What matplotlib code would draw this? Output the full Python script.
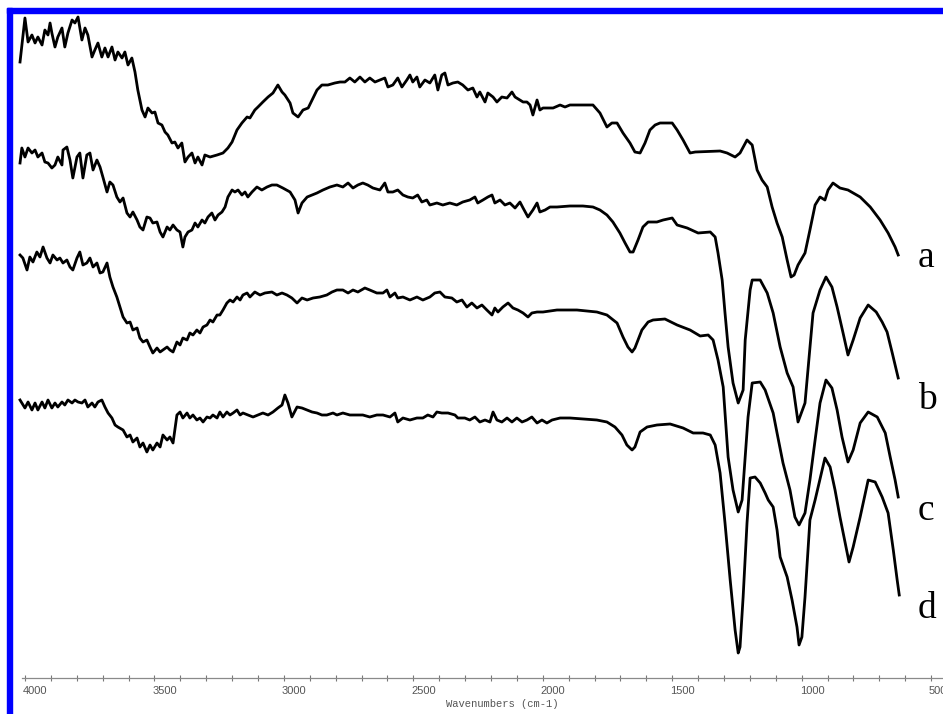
import matplotlib
matplotlib.use('Agg')
import matplotlib.pyplot as plt
import matplotlib.transforms as mtransforms
from matplotlib.patches import Rectangle
from matplotlib.ticker import MultipleLocator

# FTIR spectra, stacked (arbitrary transmittance units, offsets included)
wn_a = [4019, 4000, 3988, 3973, 3961, 3950, 3934, 3923, 3911, 3903, 3896, 3884, 3873, 3857, 3846, 3834,
        3818, 3807, 3795, 3780, 3768, 3757, 3741, 3730, 3718, 3703, 3691, 3679, 3664, 3652, 3641, 3625,
        3614, 3602, 3587, 3575, 3564, 3548, 3536, 3525, 3509, 3498, 3486, 3471, 3459, 3448, 3432, 3421,
        3409, 3394, 3382, 3370, 3355, 3343, 3332, 3316, 3305, 3285, 3258, 3235, 3216, 3200, 3181, 3162,
        3142, 3131, 3112, 3100, 3081, 3061, 3042, 3023, 3007, 2996, 2976, 2965, 2945, 2926, 2906, 2891,
        2872, 2853, 2830, 2803, 2783, 2764, 2745, 2726, 2706, 2687, 2668, 2648, 2629, 2610, 2598, 2579,
        2560, 2544, 2525, 2513, 2502, 2486, 2475, 2455, 2436, 2417, 2405, 2390, 2378, 2366, 2347, 2328,
        2309, 2289, 2270, 2254, 2243, 2223, 2212, 2192, 2177, 2158, 2138, 2119, 2107, 2088, 2076, 2061,
        2049, 2038, 2022, 2011, 1999, 1980, 1960, 1933, 1914, 1895, 1845, 1806, 1779, 1752, 1733, 1713,
        1690, 1663, 1644, 1624, 1605, 1586, 1566, 1547, 1500, 1481, 1458, 1431, 1411, 1315, 1288, 1257,
        1238, 1211, 1191, 1172, 1153, 1133, 1114, 1095, 1075, 1056, 1041, 1029, 1014, 987, 968, 948,
        929, 910, 898, 879, 852, 821, 774, 735, 697, 666, 639, 627]
t_a = [616, 660, 636, 643, 635, 641, 633, 648, 643, 655, 645, 631, 641, 650, 631, 645,
       658, 655, 661, 638, 650, 643, 621, 628, 635, 621, 630, 621, 631, 618, 626, 620,
       626, 613, 620, 606, 588, 568, 561, 570, 565, 566, 555, 553, 546, 543, 535, 536,
       530, 535, 516, 521, 525, 515, 521, 513, 523, 521, 523, 525, 530, 536, 548, 555,
       561, 560, 568, 571, 576, 581, 585, 593, 586, 583, 575, 565, 561, 568, 570, 578,
       588, 593, 593, 595, 596, 596, 600, 596, 601, 596, 600, 596, 598, 600, 591, 593,
       600, 591, 598, 603, 596, 601, 591, 598, 595, 603, 588, 603, 605, 593, 595, 596,
       593, 588, 590, 581, 586, 576, 585, 581, 576, 581, 580, 586, 581, 578, 576, 576,
       573, 563, 578, 568, 570, 570, 570, 573, 571, 573, 573, 573, 565, 551, 555, 555,
       545, 535, 526, 525, 535, 548, 553, 555, 555, 548, 538, 525, 526, 527, 525, 521,
       525, 538, 533, 508, 498, 491, 471, 455, 441, 418, 401, 403, 413, 425, 448, 473,
       481, 478, 488, 495, 490, 488, 481, 471, 458, 445, 431, 423]

wn_b = [4019, 4012, 4000, 3988, 3973, 3961, 3950, 3934, 3923, 3911, 3896, 3884, 3873, 3857, 3853, 3838,
        3826, 3815, 3799, 3788, 3776, 3761, 3749, 3737, 3722, 3710, 3699, 3683, 3672, 3660, 3645, 3633,
        3621, 3606, 3594, 3583, 3567, 3556, 3544, 3529, 3517, 3506, 3490, 3478, 3467, 3451, 3440, 3428,
        3413, 3401, 3390, 3382, 3370, 3355, 3343, 3332, 3316, 3305, 3293, 3278, 3266, 3254, 3239, 3227,
        3216, 3200, 3189, 3177, 3162, 3150, 3139, 3123, 3104, 3085, 3065, 3046, 3027, 3004, 2976, 2957,
        2945, 2930, 2910, 2891, 2872, 2849, 2822, 2795, 2772, 2752, 2733, 2714, 2695, 2676, 2656, 2629,
        2610, 2598, 2579, 2560, 2540, 2521, 2502, 2483, 2467, 2448, 2436, 2409, 2386, 2359, 2332, 2309,
        2282, 2262, 2251, 2231, 2212, 2196, 2185, 2165, 2146, 2127, 2107, 2088, 2076, 2057, 2038, 2022,
        2011, 1991, 1972, 1945, 1895, 1845, 1806, 1779, 1752, 1729, 1702, 1682, 1663, 1651, 1632, 1613,
        1593, 1559, 1535, 1500, 1481, 1442, 1400, 1353, 1334, 1323, 1307, 1296, 1284, 1265, 1245, 1226,
        1218, 1199, 1191, 1160, 1133, 1110, 1083, 1056, 1033, 1014, 987, 956, 929, 906, 883, 863,
        840, 821, 801, 774, 743, 712, 689, 670, 650, 627]
t_b = [515, 530, 521, 530, 525, 528, 521, 525, 516, 515, 510, 513, 521, 513, 528, 531,
       518, 500, 521, 525, 500, 523, 525, 508, 518, 511, 501, 486, 496, 493, 481, 476,
       480, 465, 461, 466, 458, 451, 448, 461, 460, 455, 456, 446, 441, 451, 448, 453,
       448, 446, 431, 441, 446, 448, 455, 451, 458, 455, 461, 465, 458, 463, 466, 471,
       481, 488, 486, 488, 483, 486, 481, 486, 491, 488, 491, 493, 493, 490, 486, 478,
       465, 475, 481, 483, 485, 488, 491, 493, 491, 495, 490, 493, 495, 493, 490, 488,
       495, 486, 486, 488, 483, 481, 480, 483, 476, 478, 473, 475, 473, 475, 473, 476,
       478, 481, 475, 478, 481, 483, 475, 478, 473, 475, 470, 476, 470, 461, 468, 475,
       466, 468, 471, 471, 472, 472, 471, 468, 463, 456, 445, 435, 426, 426, 438, 451,
       456, 456, 458, 460, 453, 450, 445, 446, 441, 425, 398, 365, 331, 295, 275, 288,
       338, 388, 398, 398, 385, 365, 331, 305, 291, 256, 275, 365, 388, 401, 391, 371,
       345, 323, 338, 360, 373, 366, 356, 346, 325, 300]

wn_c = [4019, 4008, 3992, 3981, 3969, 3954, 3942, 3930, 3915, 3903, 3892, 3876, 3865, 3853, 3838, 3826,
        3815, 3799, 3788, 3776, 3761, 3749, 3737, 3722, 3710, 3699, 3683, 3672, 3660, 3645, 3633, 3621,
        3606, 3594, 3583, 3567, 3556, 3544, 3529, 3517, 3506, 3490, 3478, 3467, 3451, 3440, 3428, 3413,
        3401, 3390, 3374, 3363, 3351, 3336, 3324, 3312, 3297, 3285, 3274, 3258, 3247, 3235, 3220, 3208,
        3196, 3181, 3169, 3158, 3142, 3131, 3112, 3092, 3073, 3046, 3027, 3007, 2988, 2969, 2949, 2930,
        2910, 2887, 2861, 2834, 2814, 2795, 2772, 2752, 2733, 2714, 2687, 2668, 2641, 2617, 2602, 2590,
        2571, 2560, 2540, 2513, 2486, 2463, 2436, 2417, 2397, 2378, 2351, 2332, 2312, 2293, 2274, 2254,
        2235, 2216, 2196, 2185, 2173, 2154, 2134, 2115, 2096, 2076, 2057, 2042, 2022, 1999, 1945, 1868,
        1791, 1752, 1713, 1690, 1671, 1655, 1644, 1617, 1593, 1574, 1528, 1481, 1431, 1392, 1361, 1342,
        1323, 1303, 1284, 1265, 1245, 1230, 1218, 1207, 1191, 1160, 1141, 1110, 1095, 1072, 1045, 1026,
        1010, 987, 968, 948, 929, 906, 883, 863, 844, 821, 801, 774, 743, 708, 677, 658,
        639, 627]
t_c = [423, 420, 408, 421, 416, 426, 421, 431, 420, 415, 423, 418, 420, 415, 418, 411,
       408, 420, 426, 413, 415, 420, 411, 415, 405, 406, 415, 401, 391, 381, 371, 361,
       355, 356, 348, 350, 340, 336, 338, 331, 325, 330, 326, 328, 331, 328, 326, 336,
       333, 340, 338, 345, 343, 348, 345, 351, 353, 358, 356, 363, 363, 368, 375, 378,
       376, 381, 378, 383, 385, 381, 386, 383, 385, 386, 383, 385, 383, 380, 375, 380,
       378, 380, 381, 383, 386, 388, 388, 385, 388, 386, 390, 388, 385, 385, 388, 381,
       385, 380, 381, 378, 381, 378, 381, 385, 386, 381, 380, 376, 378, 371, 375, 370,
       373, 368, 363, 370, 366, 371, 375, 370, 368, 365, 361, 365, 366, 366, 368, 368,
       366, 363, 355, 341, 331, 326, 330, 348, 356, 358, 359, 353, 348, 342, 343, 338,
       318, 291, 221, 188, 166, 178, 221, 261, 295, 296, 288, 265, 245, 215, 188, 161,
       153, 165, 198, 238, 275, 298, 290, 268, 241, 216, 228, 255, 266, 261, 245, 221,
       198, 181]

wn_d = [4019, 4012, 4000, 3988, 3973, 3961, 3950, 3934, 3923, 3911, 3896, 3884, 3873, 3857, 3846, 3834,
        3818, 3807, 3795, 3780, 3768, 3757, 3741, 3730, 3718, 3703, 3691, 3679, 3664, 3652, 3641, 3621,
        3606, 3594, 3583, 3567, 3556, 3544, 3529, 3517, 3506, 3490, 3478, 3467, 3451, 3440, 3428, 3413,
        3401, 3390, 3374, 3363, 3351, 3336, 3324, 3312, 3297, 3285, 3274, 3258, 3247, 3235, 3220, 3208,
        3196, 3181, 3169, 3158, 3139, 3119, 3100, 3081, 3061, 3042, 3023, 3007, 2996, 2984, 2969, 2949,
        2930, 2910, 2891, 2872, 2853, 2834, 2810, 2795, 2772, 2745, 2718, 2695, 2668, 2641, 2617, 2590,
        2571, 2560, 2540, 2513, 2486, 2463, 2444, 2424, 2409, 2390, 2366, 2339, 2328, 2301, 2282, 2262,
        2243, 2223, 2204, 2192, 2177, 2158, 2138, 2119, 2100, 2080, 2061, 2042, 2022, 2003, 1984, 1964,
        1933, 1895, 1845, 1791, 1752, 1721, 1694, 1675, 1655, 1644, 1624, 1597, 1559, 1508, 1458, 1419,
        1381, 1353, 1334, 1315, 1296, 1276, 1257, 1245, 1238, 1226, 1211, 1199, 1180, 1160, 1141, 1129,
        1110, 1095, 1083, 1056, 1037, 1018, 1010, 999, 987, 968, 948, 921, 910, 890, 871, 852,
        832, 817, 801, 774, 743, 716, 689, 666, 646, 631, 623]
t_d = [278, 275, 270, 276, 268, 275, 268, 276, 270, 278, 270, 275, 271, 276, 273, 278,
       275, 278, 276, 275, 278, 271, 275, 271, 276, 278, 271, 265, 260, 253, 251, 248,
       241, 243, 236, 240, 231, 235, 226, 233, 228, 235, 231, 243, 238, 241, 235, 263,
       266, 260, 265, 260, 263, 258, 260, 256, 261, 260, 263, 260, 266, 261, 266, 263,
       265, 268, 263, 265, 263, 261, 263, 265, 263, 266, 270, 273, 283, 275, 261, 271,
       270, 268, 266, 265, 263, 263, 265, 263, 265, 263, 263, 263, 261, 263, 263, 261,
       265, 256, 260, 258, 260, 260, 263, 261, 266, 265, 265, 263, 260, 260, 258, 261,
       256, 258, 256, 266, 258, 256, 260, 256, 260, 256, 258, 261, 255, 258, 255, 258,
       260, 260, 259, 258, 256, 251, 243, 233, 228, 231, 246, 251, 253, 254, 250, 245,
       245, 243, 233, 205, 155, 98, 48, 25, 31, 81, 155, 200, 201, 195, 185, 178,
       171, 148, 121, 101, 78, 51, 33, 41, 81, 158, 178, 208, 220, 211, 188, 161,
       135, 116, 131, 161, 198, 196, 181, 165, 128, 98, 83]

spectra = [(wn_a, t_a), (wn_b, t_b), (wn_c, t_c), (wn_d, t_d)]
names = ['a', 'b', 'c', 'd']
name_y = [411, 269, 158, 60]

fig = plt.figure(figsize=(9.43, 7.14), dpi=100)
ax = fig.add_axes([12 / 943, 36 / 714, 931 / 943, 665 / 714])

for wn, t in spectra:
    ax.plot(wn, t, color='black', lw=2.0, solid_joinstyle='round')

for name, y in zip(names, name_y):
    ax.text(551, y, name, fontsize=27, family='Liberation Serif',
            ha='left', va='baseline')

ax.set_xlim(4050, 454)
ax.set_ylim(0, 665)
ax.set_yticks([])
for side in ['left', 'right', 'top']:
    ax.spines[side].set_visible(False)
ax.spines['bottom'].set_color('#8a8a8a')
ax.spines['bottom'].set_linewidth(0.9)
ax.spines['bottom'].set_bounds(4013, 454)

ax.xaxis.set_major_locator(MultipleLocator(500))
ax.xaxis.set_minor_locator(MultipleLocator(100))
ax.tick_params(axis='x', which='both', direction='inout', length=4,
               width=0.8, color='#777777')
ax.tick_params(axis='x', which='major', labelsize=8, labelcolor='#555555', pad=3.6)
shift = mtransforms.ScaledTranslation(-2 / 100, 0, fig.dpi_scale_trans)
for lbl in ax.get_xticklabels():
    lbl.set_ha('left')
    lbl.set_family('Liberation Sans')
    lbl.set_transform(lbl.get_transform() + shift)

ax.set_xlabel('Wavenumbers (cm-1)', fontsize=7.6, family='Liberation Mono',
              color='#555555')
ax.xaxis.set_label_coords(0.527, -0.032)

# blue frame along the top and left edges
fig.patches.append(Rectangle((7 / 943, 701 / 714), 1, 5 / 714,
                             transform=fig.transFigure, color='#0000ff',
                             zorder=5))
fig.patches.append(Rectangle((7 / 943, 0), 5 / 943, 706 / 714,
                             transform=fig.transFigure, color='#0000ff',
                             zorder=5))

fig.savefig('out.png', dpi=100)
plt.close(fig)
